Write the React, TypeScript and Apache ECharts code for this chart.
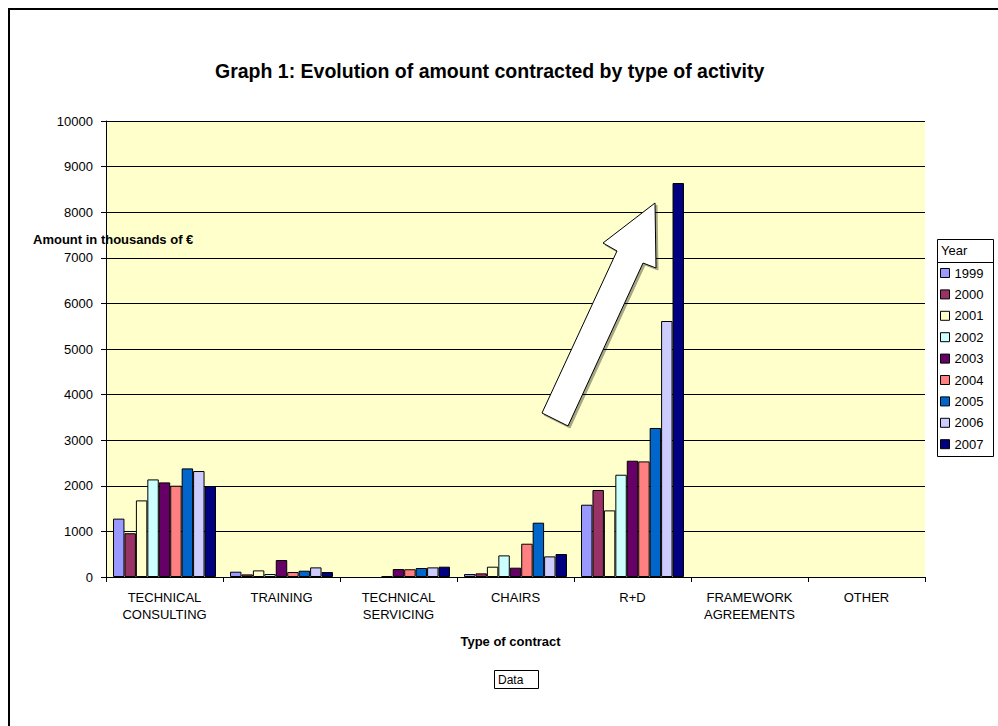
import React, { useEffect, useRef } from "react";
import * as echarts from "echarts";

const categories = [
  "TECHNICAL CONSULTING",
  "TRAINING",
  "TECHNICAL SERVICING",
  "CHAIRS",
  "R+D",
  "FRAMEWORK AGREEMENTS",
  "OTHER",
];

const years = ["1999", "2000", "2001", "2002", "2003", "2004", "2005", "2006", "2007"];

const v1999 = [1280, 116, 0, 65, 1585, 0, 0];
const v2000 = [960, 57, 0, 80, 1908, 0, 0];
const v2001 = [1680, 145, 0, 226, 1461, 0, 0];
const v2002 = [2140, 65, 15, 474, 2243, 0, 0];
const v2003 = [2075, 372, 175, 204, 2550, 0, 0];
const v2004 = [2002, 109, 170, 730, 2535, 0, 0];
const v2005 = [2382, 138, 197, 1191, 3268, 0, 0];
const v2006 = [2324, 211, 211, 452, 5614, 0, 0];
const v2007 = [1995, 109, 226, 504, 8640, 0, 0];

const seriesValues = [v1999, v2000, v2001, v2002, v2003, v2004, v2005, v2006, v2007];

const colors = [
  "#9999FF",
  "#993366",
  "#FFFFCC",
  "#CCFFFF",
  "#660066",
  "#FF8080",
  "#0066CC",
  "#CCCCFF",
  "#000080",
];

const yTicks = { min: 0, max: 10000, interval: 1000 };

const FONT = "'Liberation Sans', Arial, Helvetica, sans-serif";

export default function App() {
  const ref = useRef<HTMLDivElement>(null);

  useEffect(() => {
    document.body.style.overflow = "hidden";
    if (!ref.current) return;
    const chart = echarts.init(ref.current, null, { renderer: "svg" });

    const option: any = {
      animation: false,
      backgroundColor: "#FFFFFF",
      textStyle: { fontFamily: FONT, color: "#000" },
      title: {
        text: "Graph 1: Evolution of amount contracted by type of activity",
        left: 207,
        top: 53,
        padding: 0,
        textStyle: { fontFamily: FONT, fontSize: 19.5, fontWeight: "bold", color: "#000" },
      },
      grid: {
        left: 98,
        top: 113,
        width: 819,
        height: 456,
        show: true,
        backgroundColor: "#FFFFCC",
        borderWidth: 0,
        containLabel: false,
      },
      legend: {
        orient: "vertical",
        left: 932,
        top: 258,
        padding: 0,
        itemWidth: 9,
        itemHeight: 9,
        itemGap: 7.4,
        icon: "rect",
        data: years,
        itemStyle: { borderColor: "#000", borderWidth: 1 },
        textStyle: { fontFamily: FONT, fontSize: 13, color: "#000", lineHeight: 14 },
      },
      xAxis: {
        type: "category",
        data: categories,
        name: "Type of contract",
        nameLocation: "middle",
        nameGap: 58,
        nameTextStyle: {
          fontFamily: FONT,
          fontSize: 13,
          fontWeight: "bold",
          color: "#000",
          padding: [0, 10, 0, 0],
        },
        axisLine: { show: true, lineStyle: { color: "#000", width: 1 } },
        axisTick: { show: true, alignWithLabel: false, length: 5, lineStyle: { color: "#000" } },
        axisLabel: {
          interval: 0,
          margin: 12,
          fontFamily: FONT,
          fontSize: 13,
          lineHeight: 17,
          color: "#000",
          formatter: (v: string) => v.replace(" ", "\n"),
        },
        splitLine: { show: false },
      },
      yAxis: {
        type: "value",
        min: yTicks.min,
        max: yTicks.max,
        interval: yTicks.interval,
        axisLine: { show: true, lineStyle: { color: "#000", width: 1 } },
        axisTick: { show: true, length: 5, lineStyle: { color: "#000" } },
        axisLabel: {
          margin: 13,
          fontFamily: FONT,
          fontSize: 13,
          color: "#000",
          formatter: (v: number) => String(v),
        },
        splitLine: { show: true, lineStyle: { color: "#000", width: 1 } },
      },
      series: years.map((y, i) => ({
        name: y,
        type: "bar",
        data: seriesValues[i].map((v) =>
          v === 0 ? { value: v, itemStyle: { borderWidth: 0 } } : v
        ),
        barGap: "0%",
        barCategoryGap: "12%",
        itemStyle: { color: colors[i], borderColor: "#000", borderWidth: 1 },
      })),
      graphic: [
        {
          type: "rect",
          shape: { x: 1, y: 1, width: 2000, height: 2000 },
          style: { fill: "none", stroke: "#000", lineWidth: 2 },
          silent: true,
          z: 100,
        },
        {
          type: "text",
          x: 25,
          y: 231,
          style: {
            text: "Amount in thousands of €",
            fontFamily: FONT,
            fontSize: 13,
            fontWeight: "bold",
            fill: "#000",
            textAlign: "left",
            textVerticalAlign: "middle",
          },
          z: 100,
        },
        {
          type: "polygon",
          shape: {
            points: [
              [647, 195],
              [648, 260],
              [635, 255],
              [560, 418],
              [534, 405],
              [609, 243],
              [595, 235],
            ],
          },
          style: {
            fill: "#FFFFFF",
            stroke: "#000",
            lineWidth: 1,
            shadowColor: "rgba(0,0,0,0.35)",
            shadowOffsetX: 2,
            shadowOffsetY: 2,
            shadowBlur: 0,
          },
          z: 100,
        },
        {
          type: "rect",
          shape: { x: 929.5, y: 231.5, width: 56, height: 217 },
          style: { fill: "#FFFFFF", stroke: "#000", lineWidth: 1 },
          z: 0,
          zlevel: 0,
        },
        {
          type: "line",
          shape: { x1: 929.5, y1: 254.5, x2: 985.5, y2: 254.5 },
          style: { stroke: "#000", lineWidth: 1 },
          z: 100,
        },
        {
          type: "text",
          x: 933,
          y: 242,
          style: {
            text: "Year",
            fontFamily: FONT,
            fontSize: 13,
            fill: "#000",
            textAlign: "left",
            textVerticalAlign: "middle",
          },
          z: 100,
        },
        {
          type: "rect",
          shape: { x: 486.5, y: 662.5, width: 44, height: 18 },
          style: { fill: "#FFFFFF", stroke: "#000", lineWidth: 1 },
          z: 100,
        },
        {
          type: "text",
          x: 490,
          y: 672,
          style: {
            text: "Data",
            fontFamily: FONT,
            fontSize: 12,
            fill: "#000",
            textAlign: "left",
            textVerticalAlign: "middle",
          },
          z: 101,
        },
      ],
    };

    chart.setOption(option);
    return () => {
      chart.dispose();
    };
  }, []);

  return (
    <div
      ref={ref}
      style={{ position: "fixed", left: 8, top: 8, width: 990, height: 718 }}
    />
  );
}
